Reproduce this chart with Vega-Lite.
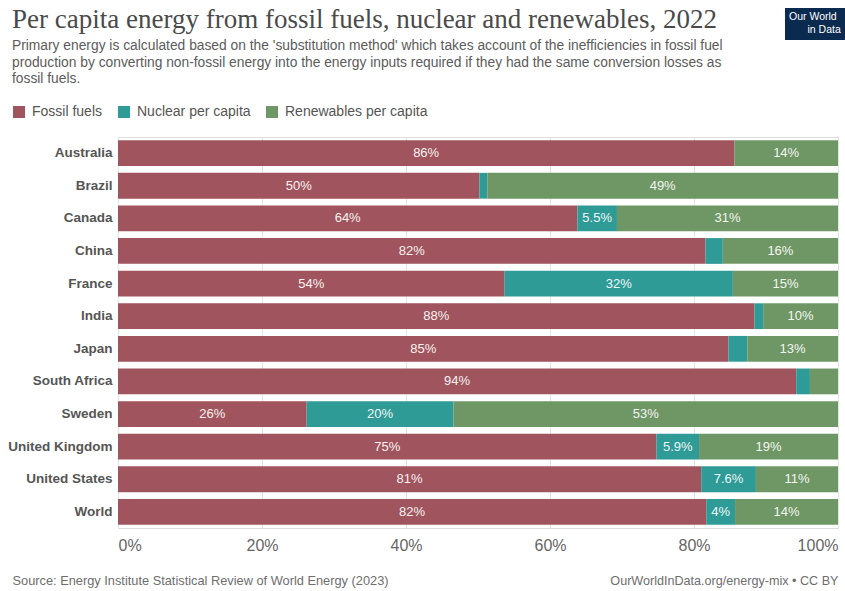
{
  "$schema": "https://vega.github.io/schema/vega-lite/v6.json",
  "width": 720,
  "height": 391,
  "autosize": "none",
  "padding": {"left": 118, "top": 137, "right": 7, "bottom": 63},
  "background": "white",
  "title": {
    "text": "Per capita energy from fossil fuels, nuclear and renewables, 2022",
    "subtitle": [
      "Primary energy is calculated based on the 'substitution method' which takes account of the inefficiencies in fossil fuel",
      "production by converting non-fossil energy into the energy inputs required if they had the same conversion losses as",
      "fossil fuels."
    ],
    "anchor": "start",
    "frame": "group",
    "dx": -106,
    "font": "Liberation Serif",
    "fontSize": 27,
    "fontWeight": "normal",
    "color": "#4a4a4a",
    "subtitleFont": "Liberation Sans",
    "subtitleFontSize": 13.8,
    "subtitleColor": "#5b5b5b",
    "subtitleLineHeight": 16.5,
    "subtitlePadding": 5,
    "offset": -79
  },
  "data": {
    "values": [
      {"country": "Australia", "source": "Fossil fuels", "value": 85.6},
      {"country": "Australia", "source": "Renewables per capita", "value": 14.4},
      {"country": "Brazil", "source": "Fossil fuels", "value": 50.2},
      {"country": "Brazil", "source": "Nuclear per capita", "value": 1.1},
      {"country": "Brazil", "source": "Renewables per capita", "value": 48.7},
      {"country": "Canada", "source": "Fossil fuels", "value": 63.8},
      {"country": "Canada", "source": "Nuclear per capita", "value": 5.5},
      {"country": "Canada", "source": "Renewables per capita", "value": 30.7},
      {"country": "China", "source": "Fossil fuels", "value": 81.6},
      {"country": "China", "source": "Nuclear per capita", "value": 2.4},
      {"country": "China", "source": "Renewables per capita", "value": 16.0},
      {"country": "France", "source": "Fossil fuels", "value": 53.7},
      {"country": "France", "source": "Nuclear per capita", "value": 31.7},
      {"country": "France", "source": "Renewables per capita", "value": 14.6},
      {"country": "India", "source": "Fossil fuels", "value": 88.4},
      {"country": "India", "source": "Nuclear per capita", "value": 1.2},
      {"country": "India", "source": "Renewables per capita", "value": 10.4},
      {"country": "Japan", "source": "Fossil fuels", "value": 84.8},
      {"country": "Japan", "source": "Nuclear per capita", "value": 2.6},
      {"country": "Japan", "source": "Renewables per capita", "value": 12.6},
      {"country": "South Africa", "source": "Fossil fuels", "value": 94.2},
      {"country": "South Africa", "source": "Nuclear per capita", "value": 1.9},
      {"country": "South Africa", "source": "Renewables per capita", "value": 3.9},
      {"country": "Sweden", "source": "Fossil fuels", "value": 26.2},
      {"country": "Sweden", "source": "Nuclear per capita", "value": 20.4},
      {"country": "Sweden", "source": "Renewables per capita", "value": 53.4},
      {"country": "United Kingdom", "source": "Fossil fuels", "value": 74.8},
      {"country": "United Kingdom", "source": "Nuclear per capita", "value": 5.9},
      {"country": "United Kingdom", "source": "Renewables per capita", "value": 19.3},
      {"country": "United States", "source": "Fossil fuels", "value": 81.0},
      {"country": "United States", "source": "Nuclear per capita", "value": 7.6},
      {"country": "United States", "source": "Renewables per capita", "value": 11.4},
      {"country": "World", "source": "Fossil fuels", "value": 81.7},
      {"country": "World", "source": "Nuclear per capita", "value": 4.0},
      {"country": "World", "source": "Renewables per capita", "value": 14.3}
    ]
  },
  "transform": [
    {"stack": "value", "groupby": ["country"], "sort": [{"field": "source", "order": "ascending"}], "as": ["x0", "x1"]},
    {"calculate": "(datum.x0 + datum.x1) / 2", "as": "mid"},
    {"calculate": "format(datum.value, '.2~r') + '%'", "as": "label"}
  ],
  "encoding": {
    "y": {
      "field": "country",
      "type": "nominal",
      "sort": "ascending",
      "scale": {"paddingInner": 0.21, "paddingOuter": 0.1},
      "axis": {
        "title": "OurWorldInData.org/energy-mix • CC BY",
        "titleAngle": 0,
        "titleX": 720,
        "titleY": 443,
        "titleAlign": "right",
        "titleBaseline": "middle",
        "titleFont": "Liberation Sans",
        "titleFontSize": 12.6,
        "titleFontWeight": "normal",
        "titleColor": "#6e6e6e",
        "labelFont": "Liberation Sans",
        "labelFontSize": 13.5,
        "labelFontWeight": "bold",
        "labelColor": "#555555",
        "labelPadding": 6,
        "ticks": false,
        "domain": false
      }
    }
  },
  "layer": [
    {
      "mark": {"type": "bar", "strokeWidth": 0},
      "encoding": {
        "x": {
          "field": "x0",
          "type": "quantitative",
          "scale": {"domain": [0, 100], "nice": false},
          "axis": {
            "values": [0, 20, 40, 60, 80, 100],
            "labelExpr": "datum.value + '%'",
            "labelFlush": true,
            "labelFont": "Liberation Sans",
            "labelFontSize": 16,
            "labelColor": "#666666",
            "labelPadding": 9,
            "grid": true,
            "gridColor": "#e4e4e4",
            "gridWidth": 1,
            "ticks": false,
            "domain": false,
            "title": "Source: Energy Institute Statistical Review of World Energy (2023)",
            "titleX": -106,
            "titleY": 52,
            "titleAlign": "left",
            "titleAnchor": "start",
            "titleBaseline": "middle",
            "titleFont": "Liberation Sans",
            "titleFontSize": 12.8,
            "titleFontWeight": "normal",
            "titleColor": "#6e6e6e"
          }
        },
        "x2": {"field": "x1"},
        "color": {
          "field": "source",
          "type": "nominal",
          "scale": {
            "domain": ["Fossil fuels", "Nuclear per capita", "Renewables per capita"],
            "range": ["#A0555E", "#2E9B97", "#6F9765"]
          },
          "legend": {
            "title": null,
            "orient": "none",
            "legendX": -106,
            "legendY": -32,
            "direction": "horizontal",
            "symbolType": "square",
            "symbolSize": 144,
            "symbolStrokeWidth": 0,
            "symbolOpacity": 1,
            "labelFont": "Liberation Sans",
            "labelFontSize": 14,
            "labelColor": "#555555",
            "labelOffset": 6,
            "columnPadding": 14
          }
        },
        "strokeDash": {
          "datum": "in Data",
          "legend": {
            "title": "Our World",
            "orient": "none",
            "legendX": 667,
            "legendY": -129,
            "fillColor": "#0b2a4f",
            "padding": 4,
            "titleFont": "Liberation Sans",
            "titleFontSize": 10.5,
            "titleFontWeight": "normal",
            "titleColor": "white",
            "titlePadding": 2,
            "labelFont": "Liberation Sans",
            "labelFontSize": 10.5,
            "labelColor": "white",
            "labelOffset": 8,
            "symbolOpacity": 0,
            "symbolSize": 0,
            "symbolStrokeWidth": 0
          }
        }
      }
    },
    {
      "transform": [{"filter": "datum.value >= 4"}],
      "mark": {"type": "text", "font": "Liberation Sans", "fontSize": 13, "color": "#ffffff", "opacity": 0.92, "baseline": "middle", "align": "center"},
      "encoding": {
        "x": {"field": "mid", "type": "quantitative"},
        "text": {"field": "label", "type": "nominal"}
      }
    }
  ]
}
